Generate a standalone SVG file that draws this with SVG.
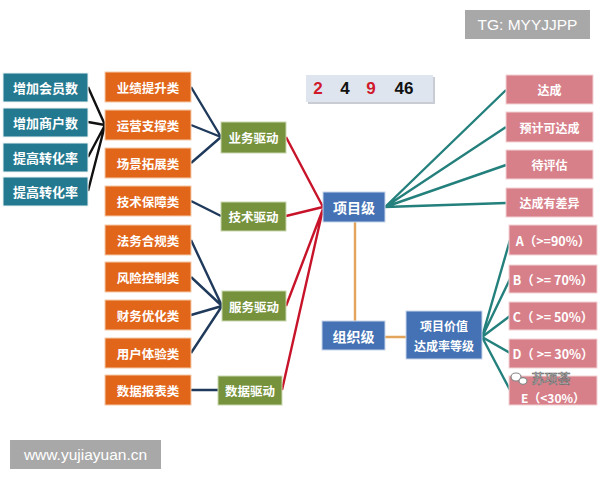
<svg xmlns="http://www.w3.org/2000/svg" width="600" height="480" viewBox="0 0 600 480">
<defs>
<style>
text{font-family:"Noto Sans CJK SC","Liberation Sans",sans-serif;fill:#fff;text-anchor:middle;dominant-baseline:central;font-weight:bold;font-size:12.5px}
.teal rect{fill:#23798f;stroke:#e8f1f4;stroke-width:1}
.teal text{font-size:13px}
.org rect{fill:#e2661a;stroke:#f3c9a8;stroke-width:1}
.grn rect{fill:#76923c;stroke:#c9d7ad;stroke-width:1}
.blu rect{fill:#4472b4;stroke:#c8d5ea;stroke-width:1}
.pnk rect{fill:#d8808a;stroke:#f2d2d6;stroke-width:1}
.pnk text{font-size:12px}
.gr text{font-size:12.5px}
.c path{fill:none;stroke-width:2.4}
.k{stroke:#111}
.n{stroke:#203a5c}
.r{stroke:#c8142a}
.t{stroke:#24807c}
.o{stroke:#e3a45c}
.badge rect{fill:#a8a8a8}
.badge text{font-family:"Liberation Sans",sans-serif;font-weight:normal;font-size:15.5px}
</style>
</defs>
<rect width="600" height="480" fill="#fff"/>

<g class="c" id="connectors">
<path class="k" d="M88,87L105,125M88,122L105,125M88,157L105,125M88,191L105,125"/>
<path class="n" d="M191,87L221,137M191,125L221,137M191,163L221,137M191,201L221,216"/>
<path class="n" d="M191,240L222,306M191,277L222,306M191,315L222,306M191,353L222,306M191,390L218,390"/>
<path class="r" d="M286,137L323,207M286,216L323,207M286,306L323,209M282,390L323,209"/>
<path class="o" d="M355,222L355,321M385,337L406,337"/>
<path class="t" d="M385,207L506,90M385,207L506,127M385,207L506,165M385,207L506,203"/>
<path class="t" d="M482,337L510,240M482,337L510,279M482,337L510,316M482,337L510,353M482,337L510,390"/>
</g>

<g id="t1" class="teal"><rect x="3" y="73" width="85" height="29"/><text x="45.5" y="87.5">增加会员数</text></g>
<g id="t2" class="teal"><rect x="3" y="108" width="85" height="29"/><text x="45.5" y="122.5">增加商户数</text></g>
<g id="t3" class="teal"><rect x="3" y="143" width="85" height="29"/><text x="45.5" y="157.5">提高转化率</text></g>
<g id="t4" class="teal"><rect x="3" y="177" width="85" height="29"/><text x="45.5" y="191.5">提高转化率</text></g>

<g id="o1" class="org"><rect x="105" y="72" width="86" height="30"/><text x="148" y="87">业绩提升类</text></g>
<g id="o2" class="org"><rect x="105" y="110" width="86" height="30"/><text x="148" y="125">运营支撑类</text></g>
<g id="o3" class="org"><rect x="105" y="148" width="86" height="30"/><text x="148" y="163">场景拓展类</text></g>
<g id="o4" class="org"><rect x="105" y="186" width="86" height="30"/><text x="148" y="201">技术保障类</text></g>
<g id="o5" class="org"><rect x="105" y="225" width="86" height="30"/><text x="148" y="240">法务合规类</text></g>
<g id="o6" class="org"><rect x="105" y="262" width="86" height="30"/><text x="148" y="277">风险控制类</text></g>
<g id="o7" class="org"><rect x="105" y="300" width="86" height="30"/><text x="148" y="315">财务优化类</text></g>
<g id="o8" class="org"><rect x="105" y="338" width="86" height="30"/><text x="148" y="353">用户体验类</text></g>
<g id="o9" class="org"><rect x="105" y="375" width="86" height="30"/><text x="148" y="390">数据报表类</text></g>

<g id="g1" class="grn"><rect x="221" y="122" width="65" height="31"/><text x="253.5" y="137.5">业务驱动</text></g>
<g id="g2" class="grn"><rect x="221" y="202" width="65" height="29"/><text x="253.5" y="216.5">技术驱动</text></g>
<g id="g3" class="grn"><rect x="222" y="291" width="64" height="30"/><text x="254" y="306">服务驱动</text></g>
<g id="g4" class="grn"><rect x="218" y="376" width="64" height="29"/><text x="250" y="390.5">数据驱动</text></g>

<g id="xmj" class="blu"><rect x="323" y="192" width="62" height="30"/><text x="354" y="207" style="font-size:14px">项目级</text></g>
<g id="zzj" class="blu"><rect x="322" y="321" width="63" height="29"/><text x="353.5" y="335.5" style="font-size:14px">组织级</text></g>
<g id="xmjz" class="blu"><rect x="406" y="311" width="76" height="48"/><text x="444" y="325.5" style="font-size:12px">项目价值</text><text x="444" y="345" style="font-size:12px">达成率等级</text></g>

<g id="p1" class="pnk"><rect x="506" y="75" width="87" height="29"/><text x="549.5" y="89.5">达成</text></g>
<g id="p2" class="pnk"><rect x="506" y="112" width="87" height="30"/><text x="549.5" y="127">预计可达成</text></g>
<g id="p3" class="pnk"><rect x="506" y="150" width="87" height="29"/><text x="549.5" y="164.5">待评估</text></g>
<g id="p4" class="pnk"><rect x="506" y="188" width="87" height="29"/><text x="549.5" y="202.5">达成有差异</text></g>

<g id="a" class="pnk gr"><rect x="509" y="225" width="88" height="30"/><text x="553" y="240">A（&gt;=90%）</text></g>
<g id="b" class="pnk gr"><rect x="509" y="265" width="88" height="28"/><text x="553" y="279">B（ &gt;= 70%）</text></g>
<g id="cc" class="pnk gr"><rect x="509" y="302" width="88" height="28"/><text x="553" y="316">C（ &gt;= 50%）</text></g>
<g id="d" class="pnk gr"><rect x="509" y="339" width="88" height="29"/><text x="553" y="353.5">D（ &gt;= 30%）</text></g>
<g id="e" class="pnk gr"><rect x="509" y="376" width="88" height="29"/><text x="553" y="397" style="font-size:12px">E（&lt;30%）</text></g>

<g id="wm">
<ellipse cx="516" cy="377" rx="5" ry="4" fill="#fff" stroke="#888" stroke-width="1.2"/>
<ellipse cx="523" cy="381" rx="4" ry="3.3" fill="#fff" stroke="#888" stroke-width="1.2"/>
<text x="551" y="377" style="fill:#fff;stroke:#666;stroke-width:0.6;font-size:13px;font-weight:normal">苏项荟</text>
</g>

<g id="nums">
<rect x="308" y="77" width="127" height="27" fill="#c9cdd3"/>
<rect x="306" y="75" width="127" height="27" fill="#dfe5ef"/>
<text x="318" y="88.5" style="fill:#d0192b;font-family:'Liberation Sans',sans-serif;font-size:17px">2</text>
<text x="345" y="88.5" style="fill:#111;font-family:'Liberation Sans',sans-serif;font-size:17px">4</text>
<text x="371" y="88.5" style="fill:#d0192b;font-family:'Liberation Sans',sans-serif;font-size:17px">9</text>
<text x="404" y="88.5" style="fill:#111;font-family:'Liberation Sans',sans-serif;font-size:17px">46</text>
</g>

<g id="tg" class="badge"><rect x="465" y="10" width="125" height="29"/><text x="527.5" y="24.5">TG: MYYJJPP</text></g>
<g id="www" class="badge"><rect x="10" y="440" width="151" height="29"/><text x="85.5" y="454.5">www.yujiayuan.cn</text></g>
</svg>
